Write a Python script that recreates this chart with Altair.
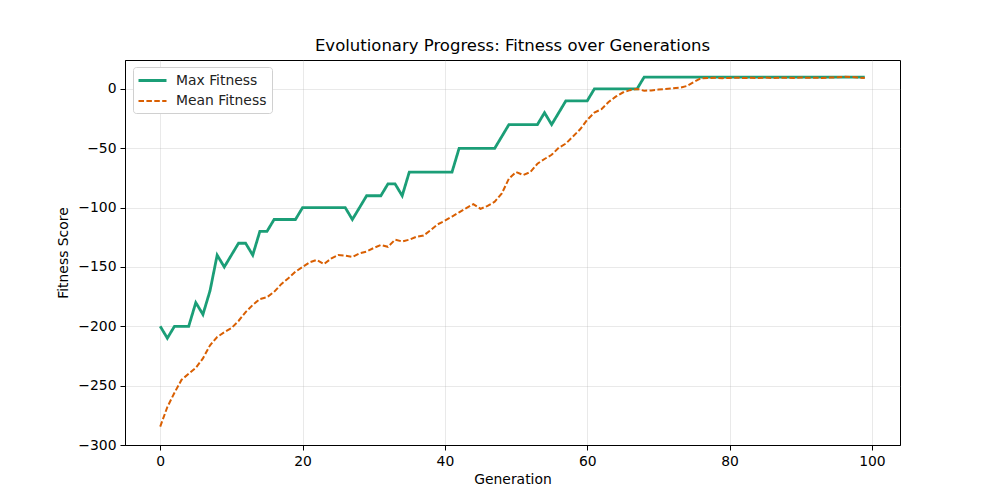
import altair as alt
import pandas as pd

generations = list(range(100))

max_fitness = (
    [-200, -210, -200, -200, -200, -180, -190, -170, -140, -150,
     -140, -130, -130, -140, -120, -120, -110, -110, -110, -110]
    + [-100] * 7
    + [-110, -100, -90, -90, -90, -80, -80, -90]
    + [-70] * 7
    + [-50] * 6
    + [-40]
    + [-30] * 5
    + [-20, -30, -20]
    + [-10] * 4
    + [0] * 7
    + [10] * 32
)

mean_fitness = [
    -284.5, -268, -256, -245, -240, -235, -227, -216, -209, -205,
    -201.5, -195.5, -188, -182, -177, -175.5, -171, -164.5, -159.5, -154,
    -150, -146, -144, -147.5, -143, -140, -140.5, -141.5, -138.5, -137,
    -134, -131.5, -133, -127, -128.5, -127, -124.5, -123.5, -119, -114,
    -111, -107.5, -104, -100.5, -97, -101, -98.5, -95, -88, -75.5,
    -70, -72.5, -70, -63, -59, -55.5, -49.5, -46, -40, -34,
    -26, -20, -17, -11, -6.5, -3, -1, 0, -1.5, -1.2,
    -0.5, 0, 0.5, 1, 2.5, 6, 9,
    9.2, 9.4, 9.1, 9.3, 9.5, 9.2, 9.4, 9.3, 9.6, 9.2,
    9.5, 9.4, 9.3, 9.7, 9.4, 9.5, 9.3, 9.6, 9.8, 10.2,
    10.1, 9.7, 9.2,
]

series_names = ["Max Fitness", "Mean Fitness"]
series_colors = ["#1b9e77", "#d95f02"]

df = pd.concat([
    pd.DataFrame({"Generation": generations, "Fitness": max_fitness, "Series": series_names[0]}),
    pd.DataFrame({"Generation": generations, "Fitness": mean_fitness, "Series": series_names[1]}),
])

FONT = "DejaVu Sans"

chart = alt.Chart(df).mark_line(clip=True).encode(
    x=alt.X("Generation:Q",
            scale=alt.Scale(domain=[-4.95, 103.95], nice=False, zero=False),
            axis=alt.Axis(values=[0, 20, 40, 60, 80, 100], title="Generation",
                          titlePadding=5)),
    y=alt.Y("Fitness:Q",
            scale=alt.Scale(domain=[-300, 24.4], nice=False, zero=False),
            axis=alt.Axis(values=[-300, -250, -200, -150, -100, -50, 0],
                          title="Fitness Score", titlePadding=7)),
    color=alt.Color("Series:N",
                    scale=alt.Scale(domain=series_names, range=series_colors),
                    legend=alt.Legend(title=None, orient="none", legendX=8, legendY=7)),
    strokeDash=alt.StrokeDash("Series:N",
                              scale=alt.Scale(domain=series_names, range=[[1, 0], [5.5, 2.4]]),
                              legend=alt.Legend(title=None, orient="none", legendX=8, legendY=7)),
    strokeWidth=alt.StrokeWidth("Series:N",
                                scale=alt.Scale(domain=series_names, range=[2.8, 2.0]),
                                legend=None),
).properties(
    width=775,
    height=385,
    title=alt.TitleParams("Evolutionary Progress: Fitness over Generations",
                          font=FONT, fontSize=16.5, fontWeight="normal",
                          color="black", anchor="middle", offset=6),
    autosize=alt.AutoSizeParams(type="none"),
    padding={"left": 117, "top": 52, "right": 92, "bottom": 47},
).configure_view(
    stroke="black", strokeWidth=1
).configure_axis(
    labelFont=FONT, labelFontSize=13.9, labelColor="black",
    titleFont=FONT, titleFontSize=13.9, titleFontWeight="normal", titleColor="black",
    tickColor="black", tickSize=5, tickWidth=1, labelPadding=4,
    domainColor="black", domainWidth=1,
    grid=True, gridColor="#b0b0b0", gridOpacity=0.35, gridWidth=0.8,
).configure_legend(
    labelFont=FONT, labelFontSize=13.9, labelColor="#222222",
    symbolType="M-2,0L2,0", symbolSize=196, symbolStrokeWidth=2.4,
    fillColor="white", strokeColor="#d0d0d0", cornerRadius=3,
    padding=5, rowPadding=5, labelOffset=15, symbolOffset=6,
)

chart.save("out.html", embed_options={"renderer": "svg", "actions": False})
